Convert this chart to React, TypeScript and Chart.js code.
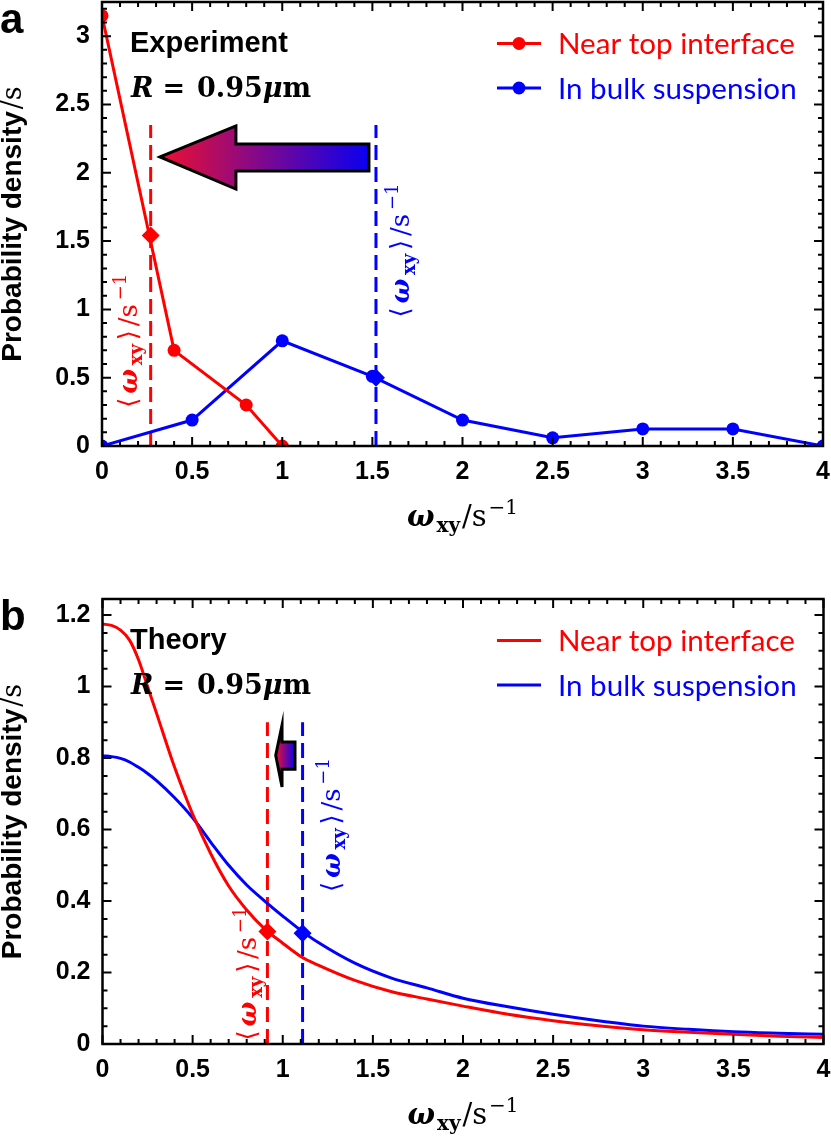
import React, { useEffect, useRef } from 'react'
import { Chart, LineController, LineElement, PointElement, LinearScale, type ChartConfiguration, type Plugin } from 'chart.js'

Chart.register(LineController, LineElement, PointElement, LinearScale)

const RED = '#ff0000'
const BLUE = '#0000ff'
const SANS = '"Liberation Sans", Arial, sans-serif'
const MATH = '"DejaVu Serif", serif'
const LEG = 'Lato, "Noto Sans", sans-serif'

// shared x axis
const xTicks = [0, 0.5, 1, 1.5, 2, 2.5, 3, 3.5, 4]
const xTickLabels = ['0', '0.5', '1', '1.5', '2', '2.5', '3', '3.5', '4']

// panel a: experiment
const expNearX = [0, 0.4, 0.8, 1.0]
const expNearY = [3.15, 0.70, 0.30, 0]
const expBulkX = [0, 0.5, 1, 1.5, 2, 2.5, 3, 3.5, 4]
const expBulkY = [0, 0.19, 0.77, 0.51, 0.19, 0.06, 0.125, 0.125, 0]
const expMeanX = [0.27, 1.52]
const expMeanY = [1.54, 0.50]
const expMeanTop = 2.35
const yTicksA = [0, 0.5, 1, 1.5, 2, 2.5, 3]
const yTickLabelsA = ['0', '0.5', '1', '1.5', '2', '2.5', '3']

// panel b: theory
const thX = [0, 0.05, 0.1, 0.15, 0.2, 0.25, 0.3, 0.4, 0.5, 0.6, 0.7, 0.8, 0.9, 1.0, 1.1, 1.2, 1.4, 1.6, 1.8, 2.0, 2.25, 2.5, 2.75, 3.0, 3.25, 3.5, 3.75, 4.0]
const thNearY = [1.175, 1.171, 1.158, 1.13, 1.075, 1.0, 0.925, 0.774, 0.643, 0.533, 0.442, 0.375, 0.322, 0.282, 0.245, 0.220, 0.178, 0.147, 0.126, 0.106, 0.083, 0.065, 0.051, 0.040, 0.033, 0.027, 0.022, 0.018]
const thBulkY = [0.806, 0.804, 0.799, 0.789, 0.774, 0.757, 0.737, 0.689, 0.633, 0.565, 0.50, 0.445, 0.40, 0.358, 0.318, 0.283, 0.226, 0.185, 0.157, 0.128, 0.104, 0.083, 0.065, 0.050, 0.041, 0.034, 0.030, 0.027]
const thMeanX = [0.915, 1.11]
const thMeanY = [0.315, 0.31]
const thMeanTop = 0.9
const yTicksB = [0, 0.2, 0.4, 0.6, 0.8, 1, 1.2]
const yTickLabelsB = ['0', '0.2', '0.4', '0.6', '0.8', '1', '1.2']

const legendLabels = ['Near top interface', 'In bulk suspension']

type Run = { t: string; f: string; dy?: number; pad?: number }

interface MeanLabel { x: number; start: number; off: number; color: string }

interface PanelSpec {
  letter: string
  title: string
  yMax: number
  yTicks: number[]
  yLabels: string[]
  yMinor: number
  padding: { left: number; top: number; right: number; bottom: number }
  height: number
  markers: boolean
  datasets: any[]
  labels: MeanLabel[]
  arrow: [number, number][]
}

const pts = (xs: number[], ys: number[]) => xs.map((x, i) => ({ x, y: ys[i] }))

function runsWidth(ctx: CanvasRenderingContext2D, runs: Run[]) {
  let w = 0
  for (const r of runs) { ctx.font = r.f; w += ctx.measureText(r.t).width + (r.pad ?? 0) }
  return w
}

function drawRuns(ctx: CanvasRenderingContext2D, runs: Run[], x: number, y: number, target?: number, center = false) {
  const w = runsWidth(ctx, runs)
  const gap = target && runs.length > 1 ? Math.max(0, (target - w) / (runs.length - 1)) : 0
  const total = w + gap * (runs.length - 1)
  let cx = center ? x - total / 2 : x
  ctx.textAlign = 'left'
  ctx.textBaseline = 'alphabetic'
  for (const r of runs) {
    ctx.font = r.f
    ctx.fillText(r.t, cx, y + (r.dy ?? 0))
    cx += ctx.measureText(r.t).width + (r.pad ?? 0) + gap
  }
}

const omegaRuns = (F: number, brackets: boolean): Run[] => {
  const s = Math.round(F * 0.7)
  const r: Run[] = []
  if (brackets) r.push({ t: '⟨', f: `${F}px ${MATH}` })
  r.push({ t: 'ω', f: `bold italic ${F}px ${MATH}` })
  r.push({ t: 'xy', f: `bold ${s}px ${MATH}`, dy: F * 0.22 })
  if (brackets) r.push({ t: '⟩', f: `${F}px ${MATH}` })
  r.push({ t: '/s', f: `${F}px ${MATH}` })
  r.push({ t: '−1', f: `${s}px ${MATH}`, dy: -F * 0.42 })
  return r
}

function makeDecor(spec: PanelSpec): Plugin {
  return {
    id: 'decor' + spec.letter,
    afterDatasetsDraw(chart) {
      const { ctx, chartArea, scales } = chart
      const { left, top, right, bottom } = chartArea
      const xs = scales.x, ys = scales.y
      ctx.save()

      // gradient arrow
      const ap = spec.arrow.map(([ax, ay]) => [xs.getPixelForValue(ax), ys.getPixelForValue(ay)])
      const g = ctx.createLinearGradient(ap[0][0], 0, ap[3][0], 0)
      g.addColorStop(0, '#ee1030')
      g.addColorStop(1, '#0a00f0')
      ctx.beginPath()
      ap.forEach(([px, py], i) => (i ? ctx.lineTo(px, py) : ctx.moveTo(px, py)))
      ctx.closePath()
      ctx.fillStyle = g
      ctx.fill()
      ctx.lineWidth = 3
      ctx.lineJoin = 'miter'
      ctx.strokeStyle = '#000'
      ctx.stroke()

      // frame + inward ticks on all sides
      ctx.strokeStyle = '#000'
      ctx.lineWidth = 2
      ctx.beginPath()
      const near = (v: number, arr: number[]) => arr.some(t => Math.abs(t - v) < 1e-6)
      for (let i = 0; i <= 40; i++) {
        const v = i / 10
        const L = near(v, xTicks) ? 9 : 5
        const px = xs.getPixelForValue(v)
        ctx.moveTo(px, bottom); ctx.lineTo(px, bottom - L)
        ctx.moveTo(px, top); ctx.lineTo(px, top + L)
      }
      const nMinor = Math.floor(spec.yMax / spec.yMinor + 1e-6)
      for (let i = 0; i <= nMinor; i++) {
        const v = i * spec.yMinor
        const L = near(v, spec.yTicks) ? 9 : 5
        const py = ys.getPixelForValue(v)
        ctx.moveTo(left, py); ctx.lineTo(left + L, py)
        ctx.moveTo(right, py); ctx.lineTo(right - L, py)
      }
      ctx.stroke()
      ctx.lineWidth = 2.5
      ctx.strokeRect(left, top, right - left, bottom - top)

      // tick labels
      ctx.fillStyle = '#000'
      ctx.font = `bold 25px ${SANS}`
      ctx.textAlign = 'center'
      ctx.textBaseline = 'middle'
      xTicks.forEach((v, i) => ctx.fillText(xTickLabels[i], xs.getPixelForValue(v), bottom + 26))
      ctx.textAlign = 'right'
      spec.yTicks.forEach((v, i) => ctx.fillText(spec.yLabels[i], left - 12, ys.getPixelForValue(v)))

      // axis titles
      drawRuns(ctx, omegaRuns(29, false), (left + right) / 2, bottom + 80, 111, true)
      ctx.save()
      ctx.translate(21, (top + bottom) / 2)
      ctx.rotate(-Math.PI / 2)
      const yRuns: Run[] = [
        { t: 'Probability density', f: `bold 28px ${SANS}`, pad: 2 },
        { t: '/s', f: `27px ${MATH}` },
      ]
      drawRuns(ctx, yRuns, 0, 0, undefined, true)
      ctx.restore()

      // panel letter and in-plot captions
      ctx.font = `bold 42px ${SANS}`
      ctx.textAlign = 'left'
      ctx.textBaseline = 'alphabetic'
      ctx.fillText(spec.letter, 0, top + 31)
      ctx.font = `bold 29px ${SANS}`
      ctx.fillText(spec.title, 130, top + 50)
      const rRuns: Run[] = [
        { t: 'R', f: `bold italic 27px ${MATH}`, pad: 9 },
        { t: '=', f: `bold 27px ${MATH}`, pad: 12 },
        { t: '0.95', f: `bold 27px ${MATH}` },
        { t: 'μ', f: `bold italic 27px ${MATH}` },
        { t: 'm', f: `bold 27px ${MATH}` },
      ]
      drawRuns(ctx, rRuns, 131, top + 95)

      // legend
      ctx.font = `30px ${LEG}`
      const legSize = 30 * 237 / ctx.measureText(legendLabels[0]).width
      ;[RED, BLUE].forEach((c, i) => {
        const by = top + 52 + i * 44.5
        const cy = by - 10.5
        ctx.strokeStyle = c
        ctx.fillStyle = c
        ctx.lineWidth = 3
        ctx.beginPath(); ctx.moveTo(497, cy); ctx.lineTo(541, cy); ctx.stroke()
        if (spec.markers) { ctx.beginPath(); ctx.arc(519, cy, 6.5, 0, Math.PI * 2); ctx.fill() }
        ctx.font = `${legSize}px ${LEG}`
        ctx.textAlign = 'left'
        ctx.textBaseline = 'alphabetic'
        ctx.fillText(legendLabels[i], 558, by)
      })

      // rotated mean labels
      for (const m of spec.labels) {
        ctx.save()
        ctx.translate(xs.getPixelForValue(m.x) + m.off, ys.getPixelForValue(m.start))
        ctx.rotate(-Math.PI / 2)
        ctx.fillStyle = m.color
        drawRuns(ctx, omegaRuns(26, true), 0, 0, 134)
        ctx.restore()
      }
      ctx.restore()
    },
  }
}

function seriesSet(nearPts: any[], bulkPts: any[], meanX: number[], meanY: number[], meanTop: number, markers: boolean) {
  const diamond = (i: number, c: string) => ({
    data: [{ x: meanX[i], y: meanY[i] }], pointStyle: 'rectRot', pointRadius: 9,
    pointBackgroundColor: c, pointBorderWidth: 0, showLine: false, clip: 0,
  })
  const dashed = (i: number, c: string) => ({
    data: [{ x: meanX[i], y: 0 }, { x: meanX[i], y: meanTop }], borderColor: c, borderWidth: 3,
    borderDash: [15, 7], pointRadius: 0, clip: 0,
  })
  const curve = (d: any[], c: string) => ({
    data: d, borderColor: c, borderWidth: 3, clip: 0,
    pointRadius: markers ? 6.5 : 0, pointBackgroundColor: c, pointBorderWidth: 0,
    cubicInterpolationMode: markers ? 'default' : 'monotone', tension: 0,
  })
  return [diamond(0, RED), diamond(1, BLUE), curve(nearPts, RED), curve(bulkPts, BLUE), dashed(0, RED), dashed(1, BLUE)]
}

const panelA: PanelSpec = {
  letter: 'a', title: 'Experiment', yMax: 3.25, yTicks: yTicksA, yLabels: yTickLabelsA, yMinor: 0.1,
  padding: { left: 102, top: 2, right: 8, bottom: 114 }, height: 560, markers: true,
  datasets: seriesSet(pts(expNearX, expNearY), pts(expBulkX, expBulkY), expMeanX, expMeanY, expMeanTop, true),
  labels: [
    { x: expMeanX[0], start: 0.28, off: -14, color: RED },
    { x: expMeanX[1], start: 0.94, off: 33, color: BLUE },
  ],
  arrow: [[0.322, 2.116], [0.743, 2.343], [0.743, 2.211], [1.481, 2.211], [1.481, 2.013], [0.743, 2.013], [0.743, 1.881]],
}

const panelB: PanelSpec = {
  letter: 'b', title: 'Theory', yMax: 1.245, yTicks: yTicksB, yLabels: yTickLabelsB, yMinor: 0.05,
  padding: { left: 102.5, top: 39, right: 7.5, bottom: 93 }, height: 577, markers: false,
  datasets: seriesSet(pts(thX, thNearY), pts(thX, thBulkY), thMeanX, thMeanY, thMeanTop, false),
  labels: [
    { x: thMeanX[0], start: 0.01, off: -11, color: RED },
    { x: thMeanX[1], start: 0.425, off: 37, color: BLUE },
  ],
  arrow: [[0.961, 0.808], [0.996, 0.892], [0.996, 0.845], [1.068, 0.845], [1.068, 0.769], [0.996, 0.769], [0.996, 0.719]],
}

function Panel({ spec }: { spec: PanelSpec }) {
  const canvasRef = useRef<HTMLCanvasElement>(null)
  const chartRef = useRef<Chart | null>(null)

  useEffect(() => {
    if (!canvasRef.current) return
    chartRef.current?.destroy()
    const cfg: ChartConfiguration = {
      type: 'line',
      data: { datasets: spec.datasets },
      options: {
        responsive: false,
        animation: false,
        events: [],
        layout: { padding: spec.padding, autoPadding: false },
        scales: {
          x: { type: 'linear', min: 0, max: 4, display: false },
          y: { type: 'linear', min: 0, max: spec.yMax, display: false },
        },
      },
      plugins: [makeDecor(spec)],
    }
    chartRef.current = new Chart(canvasRef.current, cfg)
    return () => { chartRef.current?.destroy() }
  }, [spec])

  return <canvas ref={canvasRef} width={831} height={spec.height} style={{ display: 'block', width: 831, height: spec.height }} />
}

export default function App() {
  useEffect(() => { document.body.style.margin = '0' }, [])
  return (
    <div style={{ width: 831, background: '#fff' }}>
      <Panel spec={panelA} />
      <Panel spec={panelB} />
    </div>
  )
}
